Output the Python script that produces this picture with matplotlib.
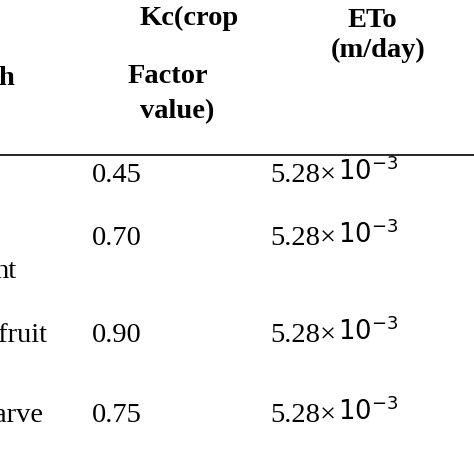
import matplotlib
matplotlib.use("Agg")
import matplotlib.pyplot as plt

stage_fragments = ["", "nt", "'fruit", "arve"]
stage_y = [None, 272, 335, 415]
kc_values = ["0.45", "0.70", "0.90", "0.75"]
eto_values = ["5.28", "5.28", "5.28", "5.28"]
eto_exp = "-3"
row_y = [175, 238, 335, 415]

fig = plt.figure(figsize=(4.74, 4.74), dpi=100)
ax = fig.add_axes([0, 0, 1, 1])
ax.set_xlim(0, 474)
ax.set_ylim(474, 0)
ax.axis("off")

serif = "Liberation Serif"
fs = 20.5
ax.text(140, 18, "Kc(crop", fontsize=fs, fontweight="bold", family=serif, va="center", ha="left")
ax.text(128, 76, "Factor", fontsize=fs, fontweight="bold", family=serif, va="center", ha="left")
ax.text(140, 112, "value)", fontsize=fs, fontweight="bold", family=serif, va="center", ha="left")
ax.text(372, 20, "ETo", fontsize=fs, fontweight="bold", family=serif, va="center", ha="center")
ax.text(378, 50, "(m/day)", fontsize=fs, fontweight="bold", family=serif, va="center", ha="center")
ax.text(-2, 78, "h", fontsize=fs, fontweight="bold", family=serif, va="center", ha="left")
ax.plot([0, 474], [155, 155], color="black", lw=1.2)

for y, kc, eto in zip(row_y, kc_values, eto_values):
    ax.text(92, y, kc, fontsize=fs, family=serif, va="center", ha="left")
    ax.text(270, y, eto + "×", fontsize=fs, family=serif, va="center", ha="left")
    ax.text(338, y - 3, "$10^{" + eto_exp + "}$", fontsize=fs - 2, va="center", ha="left")

for frag, y in zip(stage_fragments, stage_y):
    if frag:
        ax.text(-6, y, frag, fontsize=fs, family=serif, va="center", ha="left")

fig.savefig("out.png", dpi=100)
